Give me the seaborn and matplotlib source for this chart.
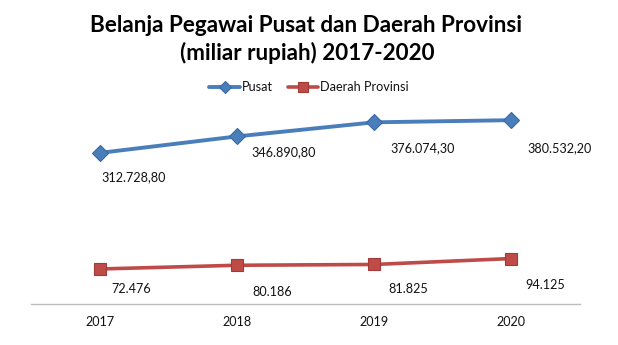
import matplotlib
matplotlib.use("Agg")
import matplotlib.pyplot as plt
from matplotlib.lines import Line2D
import seaborn as sns
import pandas as pd

# Data (miliar rupiah)
years = ["2017", "2018", "2019", "2020"]
pusat = [312728.80, 346890.80, 376074.30, 380532.20]
daerah_provinsi = [72476, 80186, 81825, 94125]
series_names = ["Pusat", "Daerah Provinsi"]

# Label placement: (dx, dy) in pixels from each point, dy pointing down
pusat_label_offsets = [(34, 24), (47, 16), (48, 26), (48, 28)]
daerah_label_offsets = [(32, 20), (35, 27), (34, 25), (34, 26)]

BLUE = "#4A7EBB"
BLUE_EDGE = "#3A68A3"
RED = "#BE4B48"
RED_EDGE = "#A23A37"


def fmt_id(value, decimals):
    """Indonesian number format: '.' for thousands, ',' for decimals."""
    s = f"{value:,.{decimals}f}"
    return s.replace(",", "X").replace(".", ",").replace("X", ".")


sns.set_theme(style="white")
plt.rcParams["font.family"] = ["Lato", "DejaVu Sans"]

positions = list(range(len(years)))
df = pd.DataFrame({
    "pos": positions * 2,
    "nilai": pusat + daerah_provinsi,
    "seri": [series_names[0]] * len(years) + [series_names[1]] * len(years),
})

fig = plt.figure(figsize=(6.18, 3.45), dpi=100)
ax = fig.add_axes([31 / 618, 41 / 345, 549 / 618, 217.4 / 345])

sns.lineplot(data=df[df["seri"] == series_names[0]], x="pos", y="nilai",
             color=BLUE, linewidth=2.8, marker="D", markersize=7.8,
             markeredgecolor=BLUE_EDGE, markeredgewidth=0.8, ax=ax, legend=False)
sns.lineplot(data=df[df["seri"] == series_names[1]], x="pos", y="nilai",
             color=RED, linewidth=2.6, marker="s", markersize=9,
             markeredgecolor=RED_EDGE, markeredgewidth=0.8, ax=ax, legend=False)

label_kw = dict(textcoords="offset pixels", ha="center", va="center",
                fontsize=9.1, color="#111111")
for i, v in enumerate(pusat):
    dx, dy = pusat_label_offsets[i]
    ax.annotate(fmt_id(v, 2), xy=(i, v), xytext=(dx, -dy), **label_kw)
for i, v in enumerate(daerah_provinsi):
    dx, dy = daerah_label_offsets[i]
    ax.annotate(fmt_id(v, 0), xy=(i, v), xytext=(dx, -dy), **label_kw)

ax.set_xlim(-0.5, len(years) - 0.5)
ax.set_ylim(0, 450000)
ax.set_xticks(positions, years)
ax.set_yticks([])
ax.set_xlabel("")
ax.set_ylabel("")
ax.tick_params(axis="x", length=0, pad=9, labelsize=9.1, labelcolor="#111111")
for side in ("top", "left", "right"):
    ax.spines[side].set_visible(False)
ax.spines["bottom"].set_color("#BDBDBD")
ax.spines["bottom"].set_linewidth(1.0)

# Title
fig.text(306 / 618, 1 - 31.7 / 345, "Belanja Pegawai Pusat dan Daerah Provinsi",
         ha="center", va="baseline", fontsize=16.2, fontweight="bold", color="black")
fig.text(307 / 618, 1 - 60.5 / 345, "(miliar rupiah) 2017-2020",
         ha="center", va="baseline", fontsize=16.2, fontweight="bold", color="black")

# Legend
handles = [
    Line2D([], [], color=BLUE, linewidth=2.8, marker="D", markersize=6.5,
           markeredgecolor=BLUE_EDGE, markeredgewidth=0.8),
    Line2D([], [], color=RED, linewidth=2.6, marker="s", markersize=7,
           markeredgecolor=RED_EDGE, markeredgewidth=0.8),
]
fig.legend(handles, series_names, loc="center", bbox_to_anchor=(309 / 618, 1 - 87 / 345),
           ncol=2, frameon=False, fontsize=9.1, handlelength=2.4, handletextpad=0.15,
           columnspacing=1.2, borderpad=0, labelcolor="#111111")

fig.savefig("out.png", dpi=100)
